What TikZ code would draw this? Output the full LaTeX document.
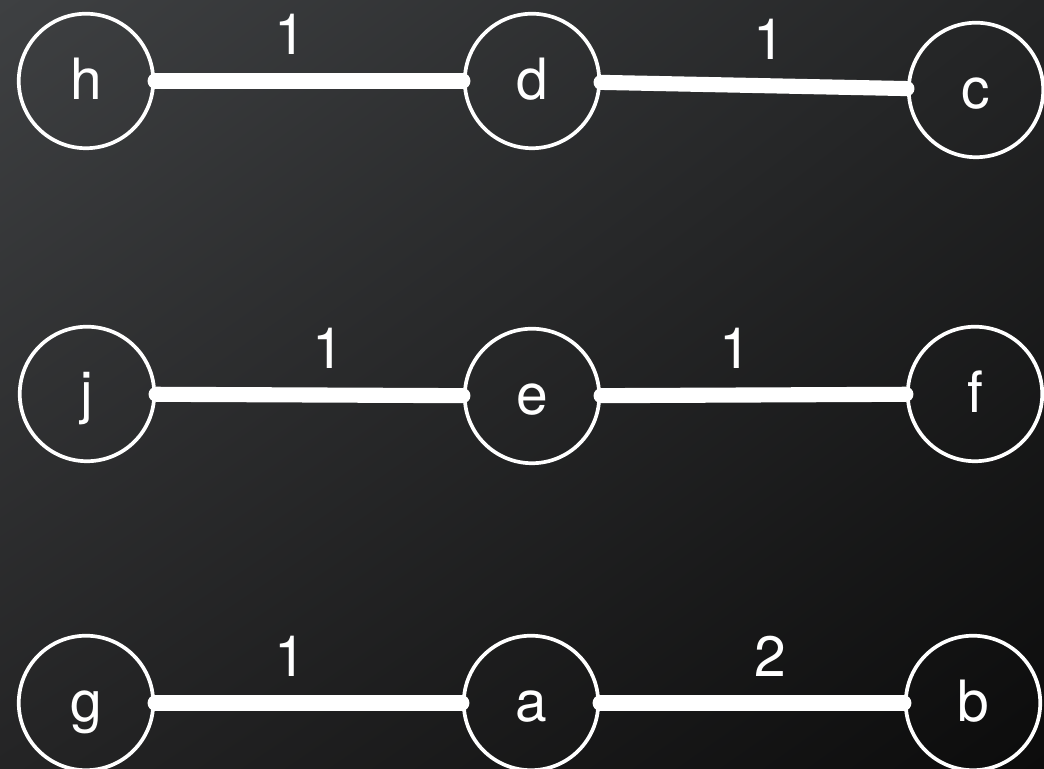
\documentclass[tikz,border=0pt]{standalone}
\usepackage{fontspec}
\setmainfont{TeX Gyre Heros}
\usetikzlibrary{positioning, shadings}

\definecolor{bgtl}{RGB}{62,64,66}
\definecolor{bgtr}{RGB}{36,37,38}
\definecolor{bgbl}{RGB}{36,36,37}
\definecolor{bgbr}{RGB}{12,12,12}

\begin{document}
\begin{tikzpicture}[
    vertex/.style={circle, draw=white, line width=1.05pt, minimum size=1.345cm,
      text=white, text height=0.48cm, text depth=0.1cm, inner sep=0pt},
    link/.style={white, line width=4.3pt, line cap=round},
    weight/.style={text=white, above}
  ]
  \fontsize{16.2}{19}\selectfont

  % Background
  \useasboundingbox (0,0) rectangle (10.44,7.69);
  \shade[upper left=bgtl, upper right=bgtr, lower left=bgbl, lower right=bgbr]
    (0,0) rectangle (10.44,7.69);

  % Top row
  \node[vertex] (h) at (0.86,6.88) {h};
  \node[vertex] (d) at (5.32,6.88) {d};
  \node[vertex] (c) at (9.76,6.79) {c};

  % Middle row
  \node[vertex] (j) at (0.87,3.75) {j};
  \node[vertex] (e) at (5.32,3.73) {e};
  \node[vertex] (f) at (9.75,3.75) {f};

  % Bottom row
  \node[vertex] (g) at (0.86,0.66) {g};
  \node[vertex] (a) at (5.31,0.66) {a};
  \node[vertex] (b) at (9.73,0.66) {b};

  % Edges with weights
  \draw[link] (h) -- (d) node[weight, pos=0.44] {1};
  \draw[link] (d) -- (c) node[weight, pos=0.55] {1};
  \draw[link] (j) -- (e) node[weight, pos=0.56] {1};
  \draw[link] (e) -- (f) node[weight, pos=0.44] {1};
  \draw[link] (g) -- (a) node[weight, pos=0.44] {1};
  \draw[link] (a) -- (b) node[weight, pos=0.56] {2};
\end{tikzpicture}
\end{document}
